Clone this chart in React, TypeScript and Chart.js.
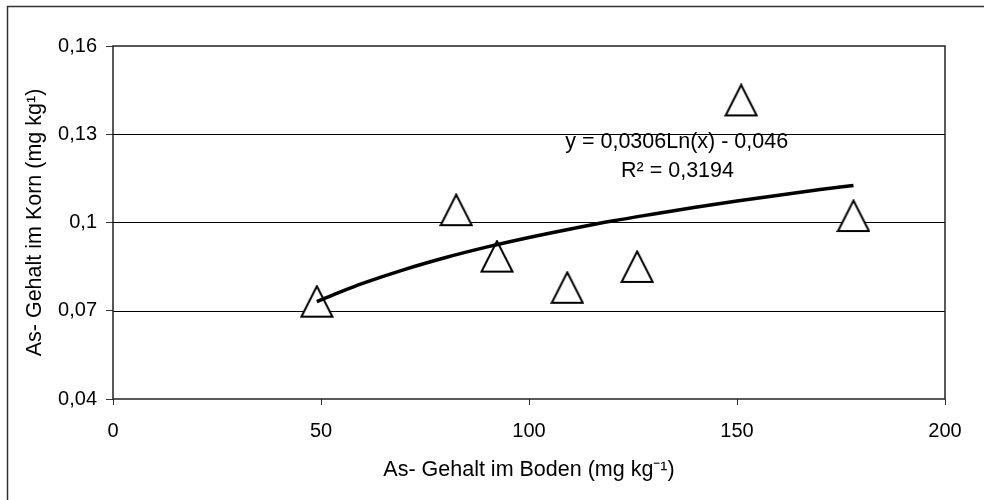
import React, { useEffect, useRef } from "react";
import { Chart, registerables } from "chart.js";
Chart.register(...registerables);

// Observed points: As in soil (x) vs As in grain (y)
const soilAs = [49, 82.5, 92.3, 109.2, 126, 151, 178];
const grainAs = [0.0731, 0.1042, 0.0884, 0.0778, 0.0849, 0.1415, 0.1022];
// Logarithmic trend line
const trendX = [49, 55, 60, 70, 80, 90, 100, 110, 120, 130, 140, 150, 160, 170, 178];
const trendY = [0.0731, 0.0766, 0.0793, 0.084, 0.0881, 0.0917, 0.0949, 0.0978, 0.1005, 0.1029, 0.1052, 0.1073, 0.1093, 0.1112, 0.1126];
const xTicks = [0, 50, 100, 150, 200];
const xTickLabels = ["0", "50", "100", "150", "200"];
const yTicks = [0.04, 0.07, 0.1, 0.13, 0.16];
const yTickLabels = ["0,04", "0,07", "0,1", "0,13", "0,16"];
const equationText = "y = 0,0306Ln(x) - 0,046";
const r2Text = "R² = 0,3194";
const xTitle = "As- Gehalt im Boden (mg kg⁻¹)";
const yTitle = "As- Gehalt im Korn (mg kg¹)";

const FONT = "'Liberation Sans', Arial, sans-serif";

function makeTriangle(): HTMLCanvasElement {
  const c = document.createElement("canvas");
  c.width = 34;
  c.height = 34;
  const g = c.getContext("2d")!;
  g.beginPath();
  g.moveTo(17, 1.5);
  g.lineTo(1.5, 32);
  g.lineTo(32.5, 32);
  g.closePath();
  g.fillStyle = "#ffffff";
  g.fill();
  g.lineWidth = 2;
  g.strokeStyle = "#000000";
  g.lineJoin = "miter";
  g.stroke();
  return c;
}

export default function App() {
  const ref = useRef<HTMLCanvasElement | null>(null);
  useEffect(() => {
    if (!ref.current) return;
    const tri = makeTriangle();
    const framePlugin = {
      id: "framePlugin",
      beforeDraw(chart: any) {
        const ctx = chart.ctx;
        ctx.save();
        ctx.fillStyle = "#ffffff";
        ctx.fillRect(0, 0, chart.width, chart.height);
        ctx.restore();
      },
      beforeDatasetsDraw(chart: any) {
        const ctx = chart.ctx;
        const a = chart.chartArea;
        const ys = chart.scales.y;
        ctx.save();
        ctx.strokeStyle = "#000000";
        ctx.lineWidth = 1;
        for (const v of yTicks.slice(1, -1)) {
          const py = Math.round(ys.getPixelForValue(v)) + 0.5;
          ctx.beginPath();
          ctx.moveTo(a.left, py);
          ctx.lineTo(a.right, py);
          ctx.stroke();
        }
        ctx.lineWidth = 1.5;
        ctx.strokeStyle = "#222222";
        ctx.strokeRect(a.left, a.top, a.right - a.left, a.bottom - a.top);
        ctx.restore();
      },
      afterDraw(chart: any) {
        const ctx = chart.ctx;
        const xs = chart.scales.x;
        const ys = chart.scales.y;
        ctx.save();
        // outer chart frame
        ctx.strokeStyle = "#333333";
        ctx.lineWidth = 1.5;
        ctx.beginPath();
        ctx.moveTo(7.5, 600);
        ctx.lineTo(7.5, 6.5);
        ctx.lineTo(1000, 6.5);
        ctx.stroke();
        // trendline label
        ctx.fillStyle = "#000000";
        ctx.font = `21.5px ${FONT}`;
        ctx.textAlign = "center";
        ctx.textBaseline = "middle";
        ctx.fillText(equationText, xs.getPixelForValue(135.5), ys.getPixelForValue(0.1274));
        ctx.fillText(r2Text, xs.getPixelForValue(135.7), ys.getPixelForValue(0.1175));
        ctx.restore();
      },
    };

    const chart = new Chart(ref.current, {
      type: "scatter",
      data: {
        datasets: [
          {
            type: "line",
            data: trendX.map((x, i) => ({ x, y: trendY[i] })),
            borderColor: "#000000",
            borderWidth: 3.5,
            pointRadius: 0,
            cubicInterpolationMode: "monotone",
            fill: false,
            order: 0,
          } as any,
          {
            data: soilAs.map((x, i) => ({ x, y: grainAs[i] })),
            pointStyle: tri,
            pointRadius: 17,
            order: 1,
          } as any,
        ],
      },
      options: {
        responsive: false,
        animation: false,
        events: [],
        layout: { padding: { left: 22, top: 46, right: 39, bottom: 0 } },
        plugins: { legend: { display: false }, tooltip: { enabled: false } },
        scales: {
          x: {
            type: "linear",
            min: 0,
            max: 200,
            afterFit(s: any) { s.height = 101; },
            afterBuildTicks(s: any) { s.ticks = xTicks.map((v) => ({ value: v })); },
            border: { display: false },
            grid: { drawOnChartArea: false, drawTicks: true, tickLength: 6, color: "#333333", lineWidth: 1 },
            ticks: {
              color: "#000000",
              font: { family: FONT, size: 20 },
              padding: 14,
              callback: (v: any) => xTickLabels[xTicks.indexOf(Number(v))] ?? "",
            },
            title: {
              display: true,
              text: xTitle,
              color: "#000000",
              font: { family: FONT, size: 21.5 },
              padding: { top: 4, bottom: 17 },
            },
          },
          y: {
            type: "linear",
            min: 0.04,
            max: 0.16,
            afterFit(s: any) { s.width = 91; },
            afterBuildTicks(s: any) { s.ticks = yTicks.map((v) => ({ value: v })); },
            border: { display: false },
            grid: { drawOnChartArea: false, drawTicks: true, tickLength: 7, color: "#333333", lineWidth: 1 },
            ticks: {
              color: "#000000",
              font: { family: FONT, size: 20 },
              padding: 9,
              callback: (v: any) => {
                const i = yTicks.findIndex((t) => Math.abs(t - Number(v)) < 1e-9);
                return i >= 0 ? yTickLabels[i] : "";
              },
            },
            title: {
              display: true,
              text: yTitle,
              color: "#000000",
              font: { family: FONT, size: 21.5 },
              padding: { top: 0, bottom: 0 },
            },
          },
        },
      },
      plugins: [framePlugin],
    } as any);
    return () => chart.destroy();
  }, []);

  return (
    <div style={{ position: "fixed", left: 0, top: 0, width: 984, height: 500, background: "#fff" }}>
      <canvas ref={ref} width={984} height={500} style={{ display: "block", width: 984, height: 500 }} />
    </div>
  );
}
